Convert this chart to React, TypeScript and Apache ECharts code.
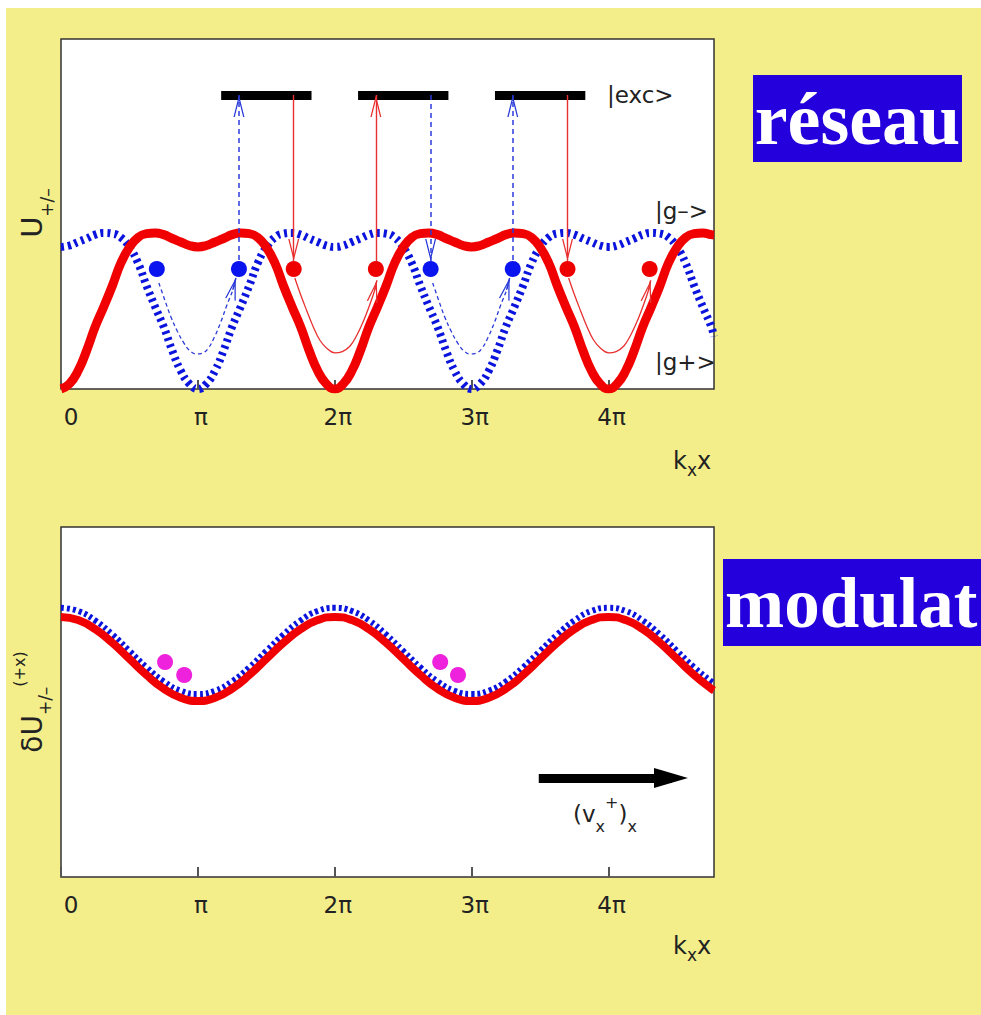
import React, { useEffect, useRef } from "react";
import * as echarts from "echarts";

// x positions in units of π (k_x x / π) — top panel sampled finer
const xTop = [
  0, 0.0625, 0.125, 0.1875, 0.25, 0.3125, 0.375, 0.4375,
  0.5, 0.5625, 0.625, 0.6875, 0.75, 0.8125, 0.875, 0.9375,
  1, 1.0625, 1.125, 1.1875, 1.25, 1.3125, 1.375, 1.4375,
  1.5, 1.5625, 1.625, 1.6875, 1.75, 1.8125, 1.875, 1.9375,
  2, 2.0625, 2.125, 2.1875, 2.25, 2.3125, 2.375, 2.4375,
  2.5, 2.5625, 2.625, 2.6875, 2.75, 2.8125, 2.875, 2.9375,
  3, 3.0625, 3.125, 3.1875, 3.25, 3.3125, 3.375, 3.4375,
  3.5, 3.5625, 3.625, 3.6875, 3.75, 3.8125, 3.875, 3.9375,
  4, 4.0625, 4.125, 4.1875, 4.25, 4.3125, 4.375, 4.4375,
  4.5, 4.5625, 4.625, 4.6875, 4.75, 4.77];
const xBottom = [0, 0.125, 0.25, 0.375, 0.5, 0.625, 0.75, 0.875, 1, 1.125, 1.25, 1.375, 1.5, 1.625, 1.75, 1.875, 2,
  2.125, 2.25, 2.375, 2.5, 2.625, 2.75, 2.875, 3, 3.125, 3.25, 3.375, 3.5, 3.625, 3.75, 3.875, 4,
  4.125, 4.25, 4.375, 4.5, 4.625, 4.75, 4.77];
const tickLabels = ["0", "π", "2π", "3π", "4π"];

// top panel: light-shifted potentials (red solid |g+>, blue dotted |g->)
const uPlus = [
  0, 0.015, 0.052, 0.11, 0.178, 0.235, 0.295, 0.36,
  0.405, 0.433, 0.444, 0.446, 0.441, 0.43, 0.42, 0.41,
  0.406, 0.41, 0.42, 0.43, 0.441, 0.446, 0.444, 0.433,
  0.405, 0.36, 0.295, 0.235, 0.178, 0.11, 0.052, 0.015,
  0, 0.015, 0.052, 0.11, 0.178, 0.235, 0.295, 0.36,
  0.405, 0.433, 0.444, 0.446, 0.441, 0.43, 0.42, 0.41,
  0.406, 0.41, 0.42, 0.43, 0.441, 0.446, 0.444, 0.433,
  0.405, 0.36, 0.295, 0.235, 0.178, 0.11, 0.052, 0.015,
  0, 0.015, 0.052, 0.11, 0.178, 0.235, 0.295, 0.36,
  0.405, 0.433, 0.444, 0.446, 0.441, 0.44];
const uMinus = [
  0.406, 0.41, 0.42, 0.43, 0.441, 0.446, 0.444, 0.433,
  0.405, 0.36, 0.295, 0.235, 0.178, 0.11, 0.052, 0.015,
  0, 0.015, 0.052, 0.11, 0.178, 0.235, 0.295, 0.36,
  0.405, 0.433, 0.444, 0.446, 0.441, 0.43, 0.42, 0.41,
  0.406, 0.41, 0.42, 0.43, 0.441, 0.446, 0.444, 0.433,
  0.405, 0.36, 0.295, 0.235, 0.178, 0.11, 0.052, 0.015,
  0, 0.015, 0.052, 0.11, 0.178, 0.235, 0.295, 0.36,
  0.405, 0.433, 0.444, 0.446, 0.441, 0.43, 0.42, 0.41,
  0.406, 0.41, 0.42, 0.43, 0.441, 0.446, 0.444, 0.433,
  0.405, 0.36, 0.295, 0.235, 0.178, 0.15];

// bottom panel: modulation potentials
const dUPlus = [0.743, 0.734, 0.708, 0.669, 0.623, 0.577, 0.538, 0.512, 0.503, 0.512, 0.538, 0.577, 0.623, 0.669, 0.708, 0.734, 0.743,
  0.734, 0.708, 0.669, 0.623, 0.577, 0.538, 0.512, 0.503, 0.512, 0.538, 0.577, 0.623, 0.669, 0.708, 0.734, 0.743,
  0.734, 0.708, 0.669, 0.623, 0.577, 0.538, 0.533];
const dUMinus = [0.769, 0.760, 0.733, 0.693, 0.646, 0.599, 0.559, 0.532, 0.523, 0.532, 0.559, 0.599, 0.646, 0.693, 0.733, 0.760, 0.769,
  0.760, 0.733, 0.693, 0.646, 0.599, 0.559, 0.532, 0.523, 0.532, 0.559, 0.599, 0.646, 0.693, 0.733, 0.760, 0.769,
  0.760, 0.733, 0.693, 0.646, 0.599, 0.559, 0.554];

// atoms
const blueAtomX = [0.70, 1.30, 2.70, 3.30];
const redAtomX = [1.70, 2.30, 3.70, 4.30];
const atomLevel = 0.343;
const arrowTipLevel = 0.366;

// excited level bars
const excStart = [1.17, 2.17, 3.17];
const excEnd = [1.83, 2.83, 3.83];
const excLevel = 0.84;

// optical pumping arrows
const pumpUpBlueX = [1.30, 3.30];
const pumpUpRedX = [2.30];
const decayDownRedX = [1.70, 3.70];
const decayDownBlueX = [2.70];

// trajectories inside the wells
const blueTraj1 = [[0.715, 0.303], [0.76, 0.252], [0.803, 0.206], [0.85, 0.165], [0.898, 0.131], [0.94, 0.11], [0.985, 0.10],
  [1.03, 0.102], [1.073, 0.115], [1.12, 0.148], [1.168, 0.192], [1.21, 0.238], [1.255, 0.283], [1.277, 0.317]];
const blueTraj2 = [[2.715, 0.303], [2.76, 0.252], [2.803, 0.206], [2.85, 0.165], [2.898, 0.131], [2.94, 0.11], [2.985, 0.10],
  [3.03, 0.102], [3.073, 0.115], [3.12, 0.148], [3.168, 0.192], [3.21, 0.238], [3.255, 0.283], [3.277, 0.317]];
const redTraj1 = [[1.708, 0.317], [1.75, 0.27], [1.793, 0.226], [1.84, 0.18], [1.89, 0.14], [1.945, 0.115], [2.0, 0.103],
  [2.055, 0.107], [2.11, 0.122], [2.16, 0.153], [2.204, 0.189], [2.25, 0.235], [2.292, 0.283], [2.307, 0.31]];
const redTraj2 = [[3.708, 0.317], [3.75, 0.27], [3.793, 0.226], [3.84, 0.18], [3.89, 0.14], [3.945, 0.115], [4.0, 0.103],
  [4.055, 0.107], [4.11, 0.122], [4.16, 0.153], [4.204, 0.189], [4.25, 0.235], [4.292, 0.283], [4.307, 0.31]];

// bottom panel atoms and velocity arrow
const magentaAtoms = [[0.76, 0.614], [0.90, 0.577], [2.77, 0.614], [2.90, 0.577]];
const velArrowStart = 3.49;
const velArrowEnd = 4.463;
const velArrowLevel = 0.283;

const RED = "#f00000";
const BLUE = "#0a14dc";
const THIN_RED = "#e83030";
const THIN_BLUE = "#2a3ad8";
const YELLOW = "#f3ee8a";
const BOX = "#2400dc";
const SANS = "DejaVu Sans";

const chevron = "path://M0 0 M44 44 M22 22 L27.5 44 L26.2 44 L22 27.2 L17.8 44 L16.5 44 Z";
const solidHead = "path://M0 0 M68 68 M34 18 L44 52 L24 52 Z";

const pair = (xs: number[], ys: number[]) => xs.map((x, i) => [x, ys[i]]);
const head = (t: number[][]) => ({ coords: [t[t.length - 2], t[t.length - 1]] });

function xAxisFor(gridIndex: number, tickLen: number) {
  return {
    gridIndex,
    type: "value",
    min: 0,
    max: 4.77,
    interval: 1,
    axisLine: { show: false },
    splitLine: { show: false },
    axisTick: { show: true, inside: true, length: tickLen, lineStyle: { color: "#555", width: 2 } },
    axisLabel: {
      margin: 16,
      showMaxLabel: false,
      formatter: (v: number) => {
        const i = Math.round(v);
        if (Math.abs(v - i) > 1e-6 || i >= tickLabels.length) return "";
        return i === 0 ? "{z|" + tickLabels[0] + "}" : "{n|" + tickLabels[i] + "}";
      },
      rich: {
        z: { fontSize: 23, fontFamily: SANS, color: "#222", padding: [0, 0, 0, 20] },
        n: { fontSize: 23, fontFamily: SANS, color: "#222", padding: [0, 0, 0, 6] },
      },
    },
  };
}

function trajLine(data: number[][], color: string, dashed: boolean) {
  return {
    type: "line",
    xAxisIndex: 0,
    yAxisIndex: 0,
    data,
    smooth: 0.4,
    showSymbol: false,
    symbol: "none",
    z: 4,
    lineStyle: { color, width: 1.3, type: dashed ? [4, 3] : "solid" },
  };
}

const option: any = {
  animation: false,
  backgroundColor: YELLOW,
  textStyle: { fontFamily: SANS },
  grid: [
    { left: 55, top: 31, width: 653, height: 350, show: true, backgroundColor: "#fff", borderColor: "#333", borderWidth: 1.5 },
    { left: 55, top: 519, width: 653, height: 350, show: true, backgroundColor: "#fff", borderColor: "#333", borderWidth: 1.5 },
  ],
  xAxis: [xAxisFor(0, 9), xAxisFor(1, 10)],
  yAxis: [
    { gridIndex: 0, type: "value", min: 0, max: 1, show: false },
    { gridIndex: 1, type: "value", min: 0, max: 1, show: false },
  ],
  series: [
    // top panel curves
    { type: "line", xAxisIndex: 0, yAxisIndex: 0, data: pair(xTop, uMinus), smooth: 0.5, showSymbol: false, symbol: "none", z: 2,
      lineStyle: { color: BLUE, width: 8, type: [3, 4] } },
    { type: "line", xAxisIndex: 0, yAxisIndex: 0, data: pair(xTop, uPlus), smooth: 0.5, showSymbol: false, symbol: "none", z: 3,
      lineStyle: { color: RED, width: 9 } },
    // excited level
    { type: "lines", coordinateSystem: "cartesian2d", xAxisIndex: 0, yAxisIndex: 0, z: 3, symbol: "none",
      lineStyle: { color: "#000", width: 9, opacity: 1 },
      data: excStart.map((s, i) => ({ coords: [[s, excLevel], [excEnd[i], excLevel]] })) },
    // red pumping / decay arrows
    { type: "lines", coordinateSystem: "cartesian2d", xAxisIndex: 0, yAxisIndex: 0, z: 5,
      symbol: ["none", chevron], symbolSize: [1, 44],
      lineStyle: { color: THIN_RED, width: 1.4, opacity: 1 },
      data: [
        ...decayDownRedX.map((x) => ({ coords: [[x, excLevel], [x, arrowTipLevel]] })),
        ...pumpUpRedX.map((x) => ({ coords: [[x, atomLevel], [x, excLevel]] })),
      ] },
    // blue pumping / decay arrows
    { type: "lines", coordinateSystem: "cartesian2d", xAxisIndex: 0, yAxisIndex: 0, z: 5,
      symbol: ["none", chevron], symbolSize: [1, 44],
      lineStyle: { color: THIN_BLUE, width: 1.5, opacity: 1, type: [5, 4] },
      data: [
        ...pumpUpBlueX.map((x) => ({ coords: [[x, atomLevel], [x, excLevel]] })),
        ...decayDownBlueX.map((x) => ({ coords: [[x, excLevel], [x, arrowTipLevel]] })),
      ] },
    // trajectories
    trajLine(blueTraj1, THIN_BLUE, true),
    trajLine(blueTraj2, THIN_BLUE, true),
    trajLine(redTraj1, THIN_RED, false),
    trajLine(redTraj2, THIN_RED, false),
    { type: "lines", coordinateSystem: "cartesian2d", xAxisIndex: 0, yAxisIndex: 0, z: 5,
      symbol: ["none", chevron], symbolSize: [1, 44],
      lineStyle: { color: THIN_BLUE, width: 1.3, opacity: 1 },
      data: [head(blueTraj1), head(blueTraj2)] },
    { type: "lines", coordinateSystem: "cartesian2d", xAxisIndex: 0, yAxisIndex: 0, z: 5,
      symbol: ["none", chevron], symbolSize: [1, 44],
      lineStyle: { color: THIN_RED, width: 1.3, opacity: 1 },
      data: [head(redTraj1), head(redTraj2)] },
    // atoms
    { type: "scatter", xAxisIndex: 0, yAxisIndex: 0, z: 10, symbolSize: 16,
      itemStyle: { color: "#0a14ee", opacity: 1 }, data: blueAtomX.map((x) => [x, atomLevel]) },
    { type: "scatter", xAxisIndex: 0, yAxisIndex: 0, z: 10, symbolSize: 16,
      itemStyle: { color: "#ee0000", opacity: 1 }, data: redAtomX.map((x) => [x, atomLevel]) },

    // bottom panel
    { type: "line", xAxisIndex: 1, yAxisIndex: 1, data: pair(xBottom, dUMinus), smooth: 0.5, showSymbol: false, symbol: "none", z: 2,
      lineStyle: { color: BLUE, width: 6, type: [3, 3] } },
    { type: "line", xAxisIndex: 1, yAxisIndex: 1, data: pair(xBottom, dUPlus), smooth: 0.5, showSymbol: false, symbol: "none", z: 3,
      lineStyle: { color: RED, width: 8 } },
    { type: "scatter", xAxisIndex: 1, yAxisIndex: 1, z: 10, symbolSize: 16,
      itemStyle: { color: "#ee22dd", opacity: 1 }, data: magentaAtoms },
    { type: "lines", coordinateSystem: "cartesian2d", xAxisIndex: 1, yAxisIndex: 1, z: 5,
      symbol: ["none", solidHead], symbolSize: [1, 68],
      lineStyle: { color: "#000", width: 9, opacity: 1 },
      data: [{ coords: [[velArrowStart, velArrowLevel], [velArrowEnd, velArrowLevel]] }] },
  ],
  graphic: [
    // labels top panel
    { type: "text", x: 601, y: 87, z: 20, style: { text: "|exc>", fill: "#222", fontSize: 23, fontFamily: SANS, align: "left", verticalAlign: "middle" } },
    { type: "text", x: 649, y: 203, z: 20, style: { text: "|g–>", fill: "#222", fontSize: 23, fontFamily: SANS, align: "left", verticalAlign: "middle" } },
    { type: "text", x: 649, y: 354, z: 20, style: { text: "|g+>", fill: "#222", fontSize: 23, fontFamily: SANS, align: "left", verticalAlign: "middle" } },
    {
      type: "text", x: 26, y: 205, rotation: Math.PI / 2, z: 20,
      style: {
        text: "{u|U}{s|+/–}", align: "center", verticalAlign: "middle",
        rich: {
          u: { fontSize: 29, fontFamily: SANS, fill: "#222", lineHeight: 46 },
          s: { fontSize: 17, fontFamily: SANS, fill: "#222", lineHeight: 18, verticalAlign: "bottom" },
        },
      },
    },
    {
      type: "text", x: 667, y: 453, z: 20,
      style: {
        text: "{a|k}{s|x}{a|x}", align: "left", verticalAlign: "middle",
        rich: {
          a: { fontSize: 24, fontFamily: SANS, fill: "#222", lineHeight: 35 },
          s: { fontSize: 17, fontFamily: SANS, fill: "#222", lineHeight: 18, verticalAlign: "bottom" },
        },
      },
    },
    // labels bottom panel
    {
      type: "text", x: 26, y: 694, rotation: Math.PI / 2, z: 20,
      style: {
        text: "{u|δU}{s|+/–}{p|(+x)}", align: "center", verticalAlign: "middle",
        rich: {
          u: { fontSize: 28, fontFamily: SANS, fill: "#222", lineHeight: 42 },
          s: { fontSize: 17, fontFamily: SANS, fill: "#222", lineHeight: 18, verticalAlign: "bottom" },
          p: { fontSize: 16, fontFamily: SANS, fill: "#222", lineHeight: 31, verticalAlign: "top" },
        },
      },
    },
    {
      type: "text", x: 667, y: 938, z: 20,
      style: {
        text: "{a|k}{s|x}{a|x}", align: "left", verticalAlign: "middle",
        rich: {
          a: { fontSize: 24, fontFamily: SANS, fill: "#222", lineHeight: 35 },
          s: { fontSize: 17, fontFamily: SANS, fill: "#222", lineHeight: 18, verticalAlign: "bottom" },
        },
      },
    },
    {
      type: "text", x: 567, y: 806, z: 20,
      style: {
        text: "{a|(v}{s|x}{p|+}{a|)}{s|x}", align: "left", verticalAlign: "middle",
        rich: {
          a: { fontSize: 23, fontFamily: SANS, fill: "#222", lineHeight: 40 },
          s: { fontSize: 16, fontFamily: SANS, fill: "#222", lineHeight: 21, verticalAlign: "bottom" },
          p: { fontSize: 16, fontFamily: SANS, fill: "#222", lineHeight: 20, verticalAlign: "top" },
        },
      },
    },
    // title boxes
    { type: "rect", shape: { x: 747, y: 67, width: 209, height: 87 }, style: { fill: BOX } },
    { type: "text", x: 851.5, y: 110.5, z: 20, style: { text: "réseau", fill: "#fff", fontSize: 74, fontWeight: "bold", fontFamily: "Liberation Serif", align: "center", verticalAlign: "middle" } },
    { type: "rect", shape: { x: 717, y: 551, width: 270, height: 87 }, style: { fill: BOX } },
    { type: "text", x: 719, y: 594.5, z: 20, style: { text: "modulat", fill: "#fff", fontSize: 71, fontWeight: "bold", fontFamily: "Liberation Serif", align: "left", verticalAlign: "middle" } },
  ],
};

export default function App() {
  const ref = useRef<HTMLDivElement>(null);
  useEffect(() => {
    const chart = echarts.init(ref.current as HTMLDivElement, null, { renderer: "svg" });
    chart.setOption(option);
    return () => chart.dispose();
  }, []);
  return (
    <div
      ref={ref}
      style={{ position: "fixed", left: 6, top: 8, width: 975, height: 1007, background: YELLOW }}
    />
  );
}
